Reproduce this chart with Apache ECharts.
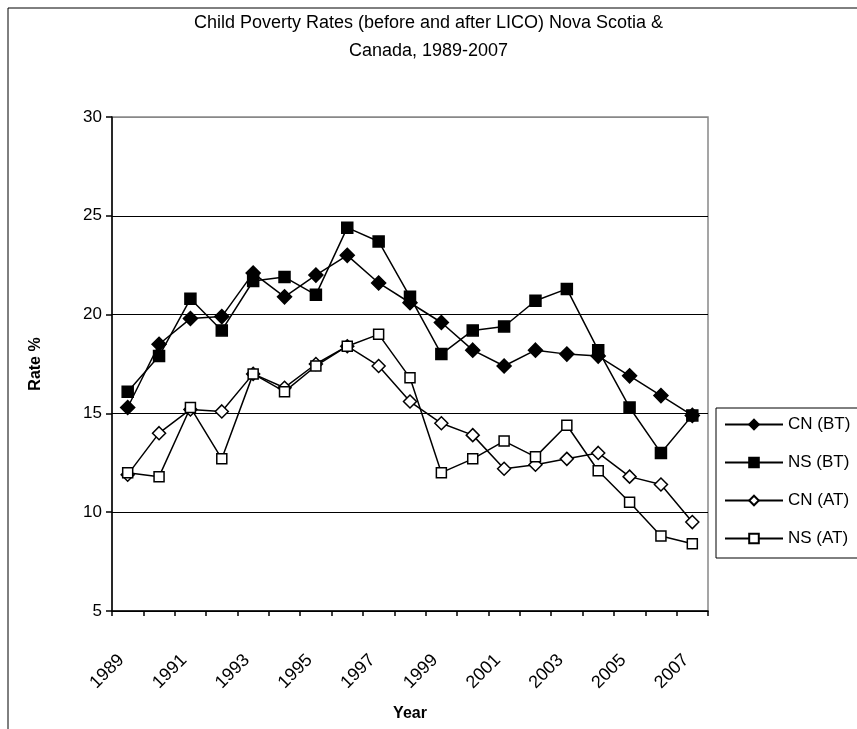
<!DOCTYPE html>
<html>
<head>
<meta charset="utf-8">
<script src="https://cdn.jsdelivr.net/npm/echarts@6/dist/echarts.min.js"></script>
<style>
  html, body { margin: 0; padding: 0; background: #fff; }
  #chart { width: 857px; height: 729px; }
</style>
</head>
<body>
<div id="chart"></div>
<script>
const years = ["1989", "1990", "1991", "1992", "1993", "1994", "1995", "1996", "1997", "1998",
  "1999", "2000", "2001", "2002", "2003", "2004", "2005", "2006", "2007"];

// rates before tax (BT) and after tax (AT)
const cnBT = [15.3, 18.5, 19.8, 19.9, 22.1, 20.9, 22.0, 23.0, 21.6, 20.6, 19.6, 18.2, 17.4, 18.2, 18.0, 17.9, 16.9, 15.9, 14.9];
const nsBT = [16.1, 17.9, 20.8, 19.2, 21.7, 21.9, 21.0, 24.4, 23.7, 20.9, 18.0, 19.2, 19.4, 20.7, 21.3, 18.2, 15.3, 13.0, 14.9];
const cnAT = [11.9, 14.0, 15.2, 15.1, 17.0, 16.3, 17.5, 18.4, 17.4, 15.6, 14.5, 13.9, 12.2, 12.4, 12.7, 13.0, 11.8, 11.4, 9.5];
const nsAT = [12.0, 11.8, 15.3, 12.7, 17.0, 16.1, 17.4, 18.4, 19.0, 16.8, 12.0, 12.7, 13.6, 12.8, 14.4, 12.1, 10.5, 8.8, 8.4];

const FONT = "'Liberation Sans', Arial, sans-serif";

const chart = echarts.init(document.getElementById("chart"));

function mkSeries(name, data, symbol, size, filled) {
  return {
    name: name,
    type: "line",
    data: data,
    symbol: symbol,
    symbolSize: size,
    showAllSymbol: true,
    lineStyle: { color: "#000", width: 1.5 },
    itemStyle: { color: filled ? "#000" : "#fff", borderColor: "#000", borderWidth: 1.5 },
    emphasis: { disabled: true },
    animation: false
  };
}

chart.setOption({
  backgroundColor: "#fff",
  title: {
    text: "Child Poverty Rates (before and after LICO) Nova Scotia &\nCanada, 1989-2007",
    left: "center",
    top: 4,
    textStyle: { fontFamily: FONT, fontSize: 18, fontWeight: "normal", color: "#000", lineHeight: 28 }
  },
  graphic: [{
    type: "rect",
    shape: { x: 8, y: 8, width: 900, height: 800 },
    style: { fill: "none", stroke: "#000", lineWidth: 1 },
    silent: true
  }],
  legend: {
    orient: "vertical",
    left: 716,
    top: 408,
    padding: [8, 40, 11, 8],
    itemWidth: 58,
    itemHeight: 12,
    itemGap: 21,
    borderColor: "#000",
    borderWidth: 1,
    textStyle: { fontFamily: FONT, fontSize: 17, color: "#000" },
    data: ["CN (BT)", "NS (BT)", "CN (AT)", "NS (AT)"]
  },
  grid: {
    left: 112, right: 149, top: 117, bottom: 118,
    show: true, borderColor: "#888", borderWidth: 1.5
  },
  xAxis: {
    type: "category",
    data: years,
    boundaryGap: true,
    name: "Year",
    nameLocation: "middle",
    nameGap: 95,
    nameTextStyle: { fontFamily: FONT, fontSize: 16, fontWeight: "bold", color: "#000" },
    axisLine: { lineStyle: { color: "#000", width: 1.5 } },
    axisTick: { show: true, interval: 0, length: 5, lineStyle: { color: "#000", width: 1.5 } },
    axisLabel: { interval: 1, rotate: 45, margin: 40, padding: [0, 9, 0, 0], fontFamily: FONT, fontSize: 18, color: "#000" },
    splitLine: { show: false }
  },
  yAxis: {
    type: "value",
    min: 5,
    max: 30,
    interval: 5,
    name: "Rate %",
    nameLocation: "middle",
    nameGap: 68,
    nameTextStyle: { fontFamily: FONT, fontSize: 16, fontWeight: "bold", color: "#000" },
    axisLine: { show: true, lineStyle: { color: "#000", width: 1.5 } },
    axisTick: { show: true, length: 6, lineStyle: { color: "#000", width: 1.5 } },
    axisLabel: { margin: 10, fontFamily: FONT, fontSize: 17, color: "#000" },
    splitLine: { show: true, lineStyle: { color: ["#000", "#000", "#000", "#000", "#000", "#888"], width: 1 } }
  },
  series: [
    mkSeries("CN (BT)", cnBT, "diamond", 14, true),
    mkSeries("NS (BT)", nsBT, "rect", 11, true),
    mkSeries("CN (AT)", cnAT, "diamond", 13, false),
    mkSeries("NS (AT)", nsAT, "rect", 10, false)
  ]
});
</script>
</body>
</html>
